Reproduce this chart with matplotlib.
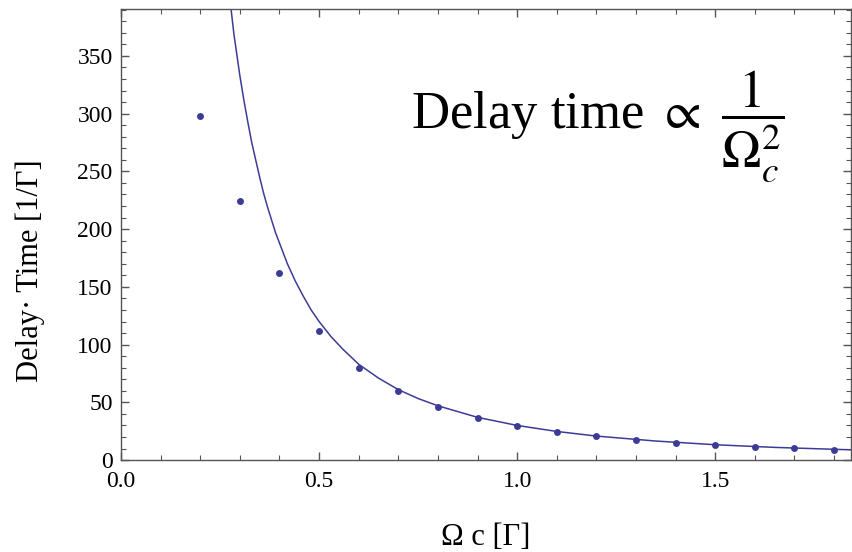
import matplotlib.pyplot as plt
from matplotlib.ticker import MultipleLocator

# measured delay times (points)
omega_c = [0.2, 0.3, 0.4, 0.5, 0.6, 0.7, 0.8, 0.9, 1.0, 1.1, 1.2, 1.3, 1.4, 1.5, 1.6, 1.7, 1.8]
delay = [298, 224, 162, 112, 79.5, 59.5, 46, 36.5, 29.5, 24.2, 20.7, 17.5, 14.8, 13.0, 11.3, 10.3, 8.8]

# fitted curve
fit_x = [0.278, 0.285, 0.29, 0.295, 0.30, 0.31, 0.32, 0.33, 0.34, 0.35, 0.36, 0.37, 0.38,
         0.39, 0.40, 0.42, 0.44, 0.46, 0.48, 0.50, 0.53, 0.56, 0.60, 0.65, 0.70, 0.75,
         0.80, 0.90, 1.00, 1.10, 1.20, 1.35, 1.50, 1.65, 1.85]
fit_y = [390, 369, 357, 345, 333, 312, 293, 275, 260, 245, 231, 219, 208,
         197, 188, 170, 155, 142, 130, 120, 107, 96, 83, 71, 61, 53.3,
         47, 37, 30, 24.8, 20.8, 16.5, 13.3, 11.0, 8.8]

color = '#3c3c98'
axis_color = '#555555'

plt.rcParams['font.family'] = ['Liberation Serif', 'DejaVu Serif']
plt.rcParams['mathtext.fontset'] = 'stix'

fig = plt.figure(figsize=(8.52, 5.52), dpi=100)
ax = fig.add_axes([0.142, 0.1665, 0.857, 0.817])

ax.plot(fit_x, fit_y, color=color, linewidth=1.1)
ax.plot(omega_c, delay, 'o', color=color, markersize=5, markeredgewidth=0)

ax.set_xlim(0, 1.843)
ax.set_ylim(0, 390.5)
ax.xaxis.set_major_locator(MultipleLocator(0.5))
ax.xaxis.set_minor_locator(MultipleLocator(0.1))
ax.yaxis.set_major_locator(MultipleLocator(50))
ax.yaxis.set_minor_locator(MultipleLocator(10))
ax.xaxis.set_major_formatter(plt.FormatStrFormatter('%.1f'))

for s in ax.spines.values():
    s.set_color(axis_color)
    s.set_linewidth(1.0)
ax.tick_params(which='both', direction='in', top=True, right=True,
               color=axis_color, labelsize=17, labelcolor='black')
ax.tick_params(which='major', length=6, width=1.0)
ax.tick_params(which='minor', length=3.5, width=0.8)
ax.tick_params(axis='x', pad=8)
ax.tick_params(axis='y', pad=6)

ax.set_xlabel('Ω c [Γ]', fontsize=22, labelpad=22)
ax.set_ylabel('Delay· Time [1/Γ]', fontsize=22)
ax.yaxis.set_label_coords(-0.104, 0.42)

ax.text(0.397, 0.736, r'Delay time $\propto\ \dfrac{1}{\Omega_c^2}$', transform=ax.transAxes,
        fontsize=38, ha='left', va='baseline')

fig.savefig('out.png', dpi=100)
